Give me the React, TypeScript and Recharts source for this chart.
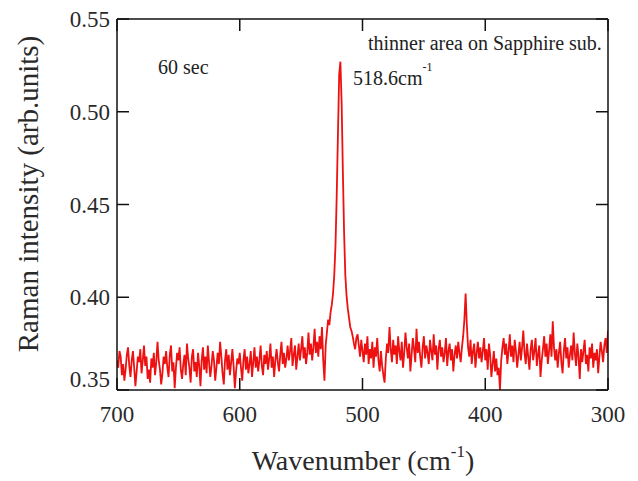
import React from 'react'
import { LineChart, Line, XAxis, YAxis } from 'recharts'

// wavenumber grid, cm^-1 (700 down to 300, 1 cm^-1 step)
const startWavenumber = 700
const stepWavenumber = 1

// intensities, split by region
const baseline700to601 = [
  0.366, 0.362, 0.371, 0.368, 0.358, 0.364, 0.355, 0.361, 0.369, 0.373,
  0.363, 0.357, 0.366, 0.371, 0.362, 0.352, 0.36, 0.368, 0.365, 0.372,
  0.359, 0.366, 0.374, 0.363, 0.368, 0.356, 0.361, 0.354, 0.367, 0.362,
  0.37, 0.358, 0.365, 0.376, 0.366, 0.361, 0.353, 0.359, 0.368, 0.364,
  0.371, 0.362, 0.357, 0.369, 0.374, 0.36, 0.365, 0.351, 0.362, 0.37,
  0.366, 0.373, 0.361, 0.356, 0.364, 0.369, 0.358, 0.375, 0.367, 0.362,
  0.354, 0.368, 0.372, 0.36, 0.365, 0.357, 0.37, 0.363, 0.352, 0.366,
  0.373, 0.361, 0.368, 0.359, 0.374, 0.365, 0.357, 0.363, 0.371, 0.366,
  0.355, 0.362, 0.37, 0.364, 0.376, 0.368, 0.359, 0.353, 0.366, 0.372,
  0.361, 0.369, 0.358, 0.365, 0.372, 0.363, 0.351, 0.36, 0.367, 0.364,
]
const baseline600to531 = [
  0.37, 0.362, 0.355, 0.366, 0.372, 0.361, 0.368, 0.359, 0.364, 0.371,
  0.357, 0.365, 0.373, 0.362, 0.368, 0.36, 0.366, 0.374, 0.363, 0.358,
  0.369, 0.364, 0.371, 0.361, 0.367, 0.375, 0.362, 0.368, 0.357, 0.366,
  0.372, 0.365, 0.36, 0.369, 0.376, 0.364, 0.37, 0.362, 0.367, 0.374,
  0.366, 0.371, 0.378, 0.363, 0.369, 0.374, 0.361, 0.368, 0.375, 0.366,
  0.372, 0.379, 0.367, 0.373, 0.364, 0.37, 0.381, 0.369, 0.375, 0.366,
  0.373, 0.383, 0.37, 0.376, 0.368, 0.379, 0.372, 0.384, 0.366, 0.355,
]
const siPeak530to505 = [
  0.374, 0.381, 0.388, 0.385, 0.392, 0.396, 0.402, 0.412, 0.428, 0.455,
  0.488, 0.52, 0.527, 0.505, 0.468, 0.435, 0.412, 0.401, 0.394, 0.389,
  0.384, 0.382, 0.379, 0.375, 0.372, 0.378,
]
const baseline504to401 = [
  0.38, 0.374, 0.368, 0.377, 0.371, 0.365, 0.375, 0.369, 0.379, 0.364,
  0.372, 0.367, 0.376, 0.362, 0.373, 0.368, 0.378, 0.366, 0.36, 0.371,
  0.363, 0.358, 0.354, 0.367, 0.375, 0.37, 0.384, 0.372, 0.365, 0.377,
  0.369, 0.374, 0.364, 0.379, 0.371, 0.366, 0.376, 0.362, 0.37, 0.381,
  0.373, 0.367, 0.375, 0.36, 0.369, 0.378, 0.372, 0.365, 0.383, 0.37,
  0.376, 0.368, 0.362, 0.373, 0.379, 0.367, 0.374, 0.37, 0.364, 0.377,
  0.371, 0.366, 0.38, 0.369, 0.374, 0.361, 0.372, 0.377, 0.368, 0.373,
  0.365, 0.37, 0.378, 0.363, 0.371, 0.375, 0.366, 0.372, 0.36, 0.369,
  0.374, 0.367, 0.376, 0.37, 0.365, 0.373, 0.379, 0.388, 0.402, 0.385,
  0.373, 0.368, 0.377, 0.364, 0.371, 0.375, 0.362, 0.37, 0.376, 0.367,
  0.373, 0.365, 0.371, 0.378,
]
const baseline400to300 = [
  0.366, 0.372, 0.361, 0.375, 0.369, 0.357, 0.364, 0.371, 0.36, 0.367,
  0.358, 0.362, 0.35, 0.366, 0.373, 0.378, 0.369, 0.375, 0.364, 0.371,
  0.38, 0.368, 0.374, 0.365, 0.377, 0.371, 0.362, 0.369, 0.376, 0.366,
  0.373, 0.382, 0.37, 0.364, 0.375, 0.368, 0.361, 0.372, 0.377, 0.366,
  0.371, 0.378, 0.363, 0.369, 0.374, 0.357, 0.366, 0.372, 0.379, 0.368,
  0.375, 0.364, 0.371, 0.38, 0.368, 0.387, 0.373, 0.366, 0.372, 0.362,
  0.37, 0.376, 0.365, 0.359, 0.371, 0.378, 0.367, 0.373, 0.362, 0.369,
  0.374, 0.366, 0.381, 0.37, 0.363, 0.375, 0.368, 0.356, 0.372, 0.365,
  0.371, 0.377, 0.364, 0.369, 0.36, 0.373, 0.367, 0.375, 0.362, 0.37,
  0.366, 0.372, 0.359, 0.368, 0.376, 0.371, 0.365, 0.374, 0.378, 0.37,
  0.382,
]

const xTicks = [700, 600, 500, 400, 300]
const yTicks = [0.35, 0.4, 0.45, 0.5, 0.55]

const intensities = [
  ...baseline700to601,
  ...baseline600to531,
  ...siPeak530to505,
  ...baseline504to401,
  ...baseline400to300,
]
const data = intensities.map((v, i) => ({
  wavenumber: startWavenumber - i * stepWavenumber,
  intensity: v,
}))

const FONT = '"Liberation Serif", "Times New Roman", serif'
const TICK_LEN = 12
const INK = '#111'
const LABEL = '#2a2a2a'

const BottomTick = (props: any) => {
  const { x, y, payload } = props
  return (
    <g>
      <line x1={x} x2={x} y1={y} y2={y - TICK_LEN} stroke={INK} strokeWidth={1.5} />
      <text x={x} y={y + 32} textAnchor="middle" fontFamily={FONT} fontSize={23} fill={LABEL}>
        {payload.value}
      </text>
    </g>
  )
}

const LeftTick = (props: any) => {
  const { x, y, payload } = props
  // bottom label sits a little higher, clear of the "700"
  const shift = payload.value === 0.35 ? -11 : 0
  return (
    <g>
      <line x1={x} x2={x + TICK_LEN} y1={y} y2={y} stroke={INK} strokeWidth={1.5} />
      <text x={x - 7} y={y + 8 + shift} textAnchor="end" fontFamily={FONT} fontSize={23} fill={LABEL}>
        {Number(payload.value).toFixed(2)}
      </text>
    </g>
  )
}

const TopTick = (props: any) => {
  const { x, y } = props
  return <line x1={x} x2={x} y1={y} y2={y + TICK_LEN} stroke={INK} strokeWidth={1.5} />
}

const RightTick = (props: any) => {
  const { x, y } = props
  return <line x1={x} x2={x - TICK_LEN} y1={y} y2={y} stroke={INK} strokeWidth={1.5} />
}

export default function App() {
  return (
    <div style={{ position: 'absolute', left: 0, top: 0, width: 638, height: 481, background: '#fff' }}>
      <LineChart
        width={638}
        height={481}
        data={data}
        margin={{ top: 18, right: 29, left: 57, bottom: 51 }}
      >
        <XAxis
          dataKey="wavenumber"
          type="number"
          domain={[300, 700]}
          ticks={xTicks}
          reversed
          allowDataOverflow
          height={40}
          tickSize={0}
          tickMargin={0}
          tickLine={false}
          axisLine={{ stroke: INK, strokeWidth: 1.5 }}
          tick={<BottomTick />}
          interval={0}
        />
        <XAxis
          xAxisId="top"
          orientation="top"
          dataKey="wavenumber"
          type="number"
          domain={[300, 700]}
          ticks={xTicks}
          reversed
          allowDataOverflow
          height={1}
          tickSize={0}
          tickMargin={0}
          tickLine={false}
          axisLine={{ stroke: INK, strokeWidth: 1.5 }}
          tick={<TopTick />}
          interval={0}
        />
        <YAxis
          type="number"
          domain={[0.35, 0.55]}
          ticks={yTicks}
          allowDataOverflow
          width={60}
          tickSize={0}
          tickMargin={0}
          tickLine={false}
          axisLine={{ stroke: INK, strokeWidth: 1.5 }}
          tick={<LeftTick />}
          interval={0}
        />
        <YAxis
          yAxisId="right"
          orientation="right"
          type="number"
          domain={[0.35, 0.55]}
          ticks={yTicks}
          allowDataOverflow
          width={1}
          tickSize={0}
          tickMargin={0}
          tickLine={false}
          axisLine={{ stroke: INK, strokeWidth: 1.5 }}
          tick={<RightTick />}
          interval={0}
        />
        <Line
          dataKey="intensity"
          stroke="#ee1111"
          strokeWidth={1.8}
          dot={false}
          isAnimationActive={false}
        />
      </LineChart>
      <svg
        width={638}
        height={481}
        style={{ position: 'absolute', left: 0, top: 0, pointerEvents: 'none' }}
      >
        <g fontFamily={FONT} fill="#222">
          <text x={158} y={74} fontSize={20}>60 sec</text>
          <text x={368} y={50} fontSize={20}>thinner area on Sapphire sub.</text>
          <text x={353} y={85} fontSize={20}>
            518.6cm<tspan dy={-14} fontSize={12}>-1</tspan>
          </text>
          <text x={363} y={470} fontSize={28} textAnchor="middle" fill={LABEL}>
            Wavenumber (cm<tspan dy={-13} fontSize={17}>-1</tspan>
            <tspan dy={13}>)</tspan>
          </text>
          <text
            x={38}
            y={194}
            fontSize={29}
            textAnchor="middle"
            fill={LABEL}
            transform="rotate(-90 38 194)"
          >
            Raman intensity (arb.units)
          </text>
        </g>
      </svg>
    </div>
  )
}
